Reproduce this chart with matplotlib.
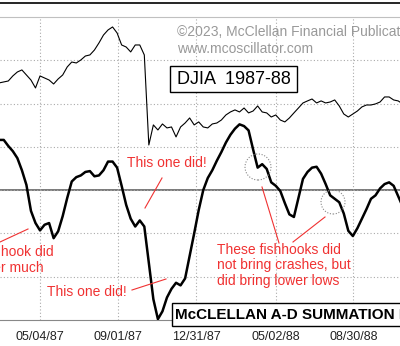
import pandas as pd
import numpy as np
import matplotlib
matplotlib.use("Agg")
import matplotlib.pyplot as plt
import matplotlib.dates as mdates
from matplotlib.patches import Rectangle, Ellipse
from matplotlib.lines import Line2D

plt.rcParams["font.family"] = ["Liberation Sans", "DejaVu Sans"]

# Weekly readings (Mondays) from the start of March 1987
start_date = "1987-03-02"

# DJIA closes
djia = [2256, 2264, 2272, 2314, 2347, 2364, 2322, 2280, 2214, 2314,
        2297, 2280, 2247, 2289, 2322, 2389, 2430, 2422, 2447, 2480,
        2489, 2530, 2589, 2655, 2697, 2722, 2672, 2572, 2555, 2514,
        2572, 2572, 2489, 1739, 1906, 1864, 1914, 1881, 1889, 1806,
        1889, 1922, 1964, 1906, 1931, 1889, 1881, 1914, 1922, 1947,
        1989, 2014, 2031, 2014, 2047, 2006, 2022, 2064, 2014, 2006,
        1972, 1989, 1947, 1931, 1964, 2006, 2047, 2089, 2106, 2122,
        2089, 2106, 2089, 2097, 2114, 2064, 1997, 1972, 1997, 2022,
        2056, 2072, 2072, 2081, 2097, 2139, 2139, 2114, 2106, 2081]

# McClellan A-D Summation Index
summation = [580, 580, 510, 450, 370, 230, 60, -240, -380, -465,
             -400, -380, -555, -475, -300, -90, 100, 150, 170, 210,
             220, 160, 170, 230, 330, 330, 260, 50, -170, -330,
             -420, -350, -420, -840, -1260, -1490, -1400, -1240, -1140, -1070,
             -1100, -1020, -760, -500, -230, 0, 140, 230, 340, 440,
             550, 640, 710, 760, 740, 690, 470, 260, 300, 245,
             90, 50, -10, -150, -280, -310, -90, 130, 210, 260,
             270, 190, 70, -60, -100, -140, -270, -470, -530, -440,
             -330, -220, -100, -60, 20, 70, 90, 50, -70, -190]

tick_dates = ["1987-05-04", "1987-09-01", "1987-12-31", "1988-05-02", "1988-08-30"]

weeks = pd.date_range(start_date, periods=len(djia), freq="7D")

W, H = 400, 346
RED = "#f03232"


def fp(x, y):
    # pixel position (from top-left) -> figure fraction
    return x / W, 1 - y / H


fig = plt.figure(figsize=(W / 100, H / 100), dpi=100)
ax = fig.add_axes([0, (H - 320) / H, 1, (320 - 17) / H])

ax.set_xlim(pd.Timestamp("1987-05-04") - pd.Timedelta(days=61.8),
            pd.Timestamp("1988-08-30") + pd.Timedelta(days=71.8))
ax.set_ylim(-1500, 2000)
ax.set_xticks(pd.to_datetime(tick_dates))
ax.xaxis.set_major_formatter(mdates.DateFormatter("%m/%d/%y"))
ax.set_yticks(np.arange(-1000, 2000, 500))
ax.tick_params(axis="y", length=0, labelleft=False)
ax.tick_params(axis="x", length=0, pad=8, labelsize=9, labelcolor="#222222")
ax.grid(True, color="#aaaaaa", linestyle=(0, (1, 2)), lw=0.8)
ax.axhline(0, color="#555555", lw=1.1, zorder=1)
for side in ["left", "right"]:
    ax.spines[side].set_visible(False)
ax.spines["top"].set_color("#c0c0c0")
ax.spines["bottom"].set_color("#888888")

ax.plot(weeks, summation, color="black", lw=1.8, zorder=3)

ax_dj = ax.twinx()
ax_dj.set_ylim(281, 2805)
ax_dj.set_yticks([])
for side in ax_dj.spines:
    ax_dj.spines[side].set_visible(False)
ax_dj.plot(weeks, djia, color="black", lw=0.8)

# outer frame line along the top
fig.add_artist(Line2D([0, 1], [fp(0, 3)[1]] * 2, transform=fig.transFigure, color="black", lw=1.2))

# copyright
fig.text(*fp(177, 32), "\u00a92023, McClellan Financial Publications", color="#999999",
         fontsize=10, ha="left", va="center")
fig.text(*fp(177, 49), "www.mcoscillator.com", color="#999999",
         fontsize=10, ha="left", va="center")

# title boxes
x0, y0 = fp(170, 92)
fig.add_artist(Rectangle((x0, y0), 127 / W, 26 / H, transform=fig.transFigure,
                         facecolor="white", edgecolor="black", lw=1, zorder=5))
fig.text(*fp(233.5, 79.5), "DJIA  1987-88", fontsize=13, ha="center", va="center", zorder=6)

x0, y0 = fp(172, 326)
fig.add_artist(Rectangle((x0, y0), 240 / W, 23 / H, transform=fig.transFigure,
                         facecolor="white", edgecolor="black", lw=1, zorder=5))
fig.text(*fp(175, 315), "McCLELLAN A-D SUMMATION INDEX", fontsize=11, fontweight="bold",
         ha="left", va="center", zorder=6)

# annotations
fig.text(*fp(127, 163), "This one did!", color=RED, fontsize=10, ha="left", va="center")
fig.text(*fp(47, 292), "This one did!", color=RED, fontsize=10, ha="left", va="center")
fig.text(*fp(-51, 260), "This fishhook did\nnot lower much", color=RED, fontsize=10,
         ha="left", va="center", linespacing=1.1)
fig.text(*fp(217, 265.5), "These fishhooks did\nnot bring crashes, but\ndid bring lower lows",
         color=RED, fontsize=10, ha="left", va="center", linespacing=1.1)

for (xa, ya), (xb, yb) in [((0, 242), (28, 229)), ((162, 178), (145, 208)),
                           ((132, 290), (166, 279)), ((262, 187), (279, 243)),
                           ((325, 217), (293, 242))]:
    p, q = fp(xa, ya), fp(xb, yb)
    fig.add_artist(Line2D([p[0], q[0]], [p[1], q[1]], transform=fig.transFigure,
                          color=RED, lw=0.8))

# dotted circles around the fishhooks
for (cx, cy), r in [((258, 167), 13), ((333, 202), 12)]:
    fig.add_artist(Ellipse(fp(cx, cy), 2 * r / W, 2 * r / H, transform=fig.transFigure,
                           facecolor="none", edgecolor="#888888", lw=0.8, linestyle=(0, (1, 1.5))))

fig.savefig("out.png", dpi=100)
